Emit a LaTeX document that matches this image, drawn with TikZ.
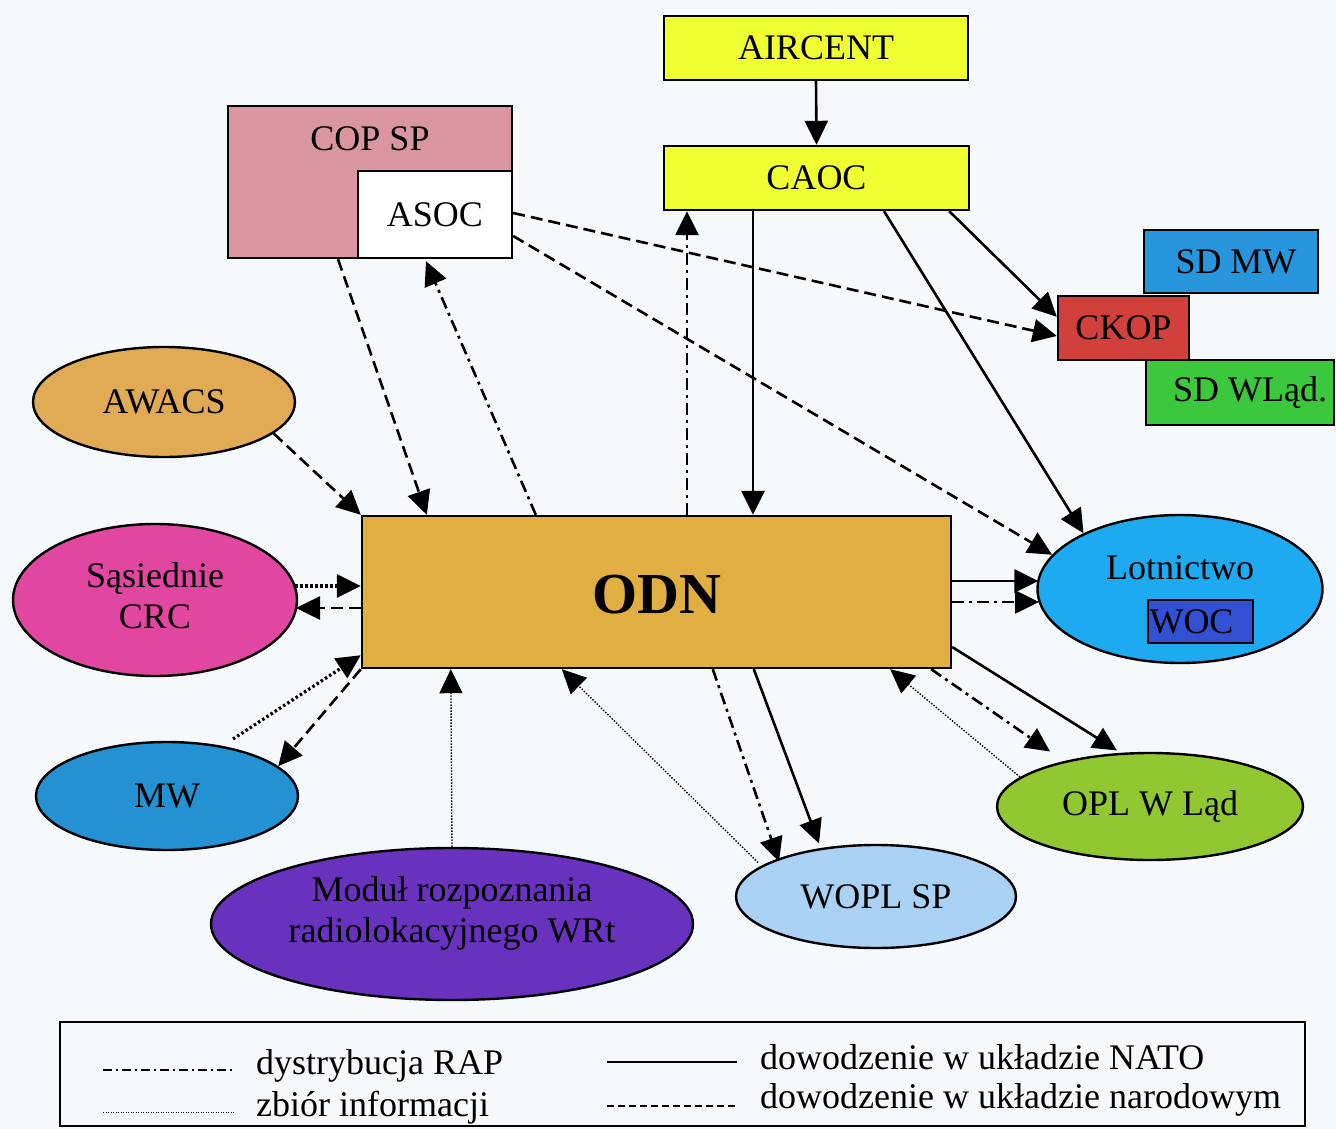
\documentclass[tikz,border=0pt]{standalone}
\usepackage{fontspec}
\setmainfont{Liberation Serif}
\usetikzlibrary{shapes.geometric,arrows.meta,calc}
\definecolor{bgc}{RGB}{246,249,252}
\definecolor{cyel}{RGB}{240,255,50}
\definecolor{cpink}{RGB}{218,150,160}
\definecolor{csdmw}{RGB}{40,150,220}
\definecolor{cckop}{RGB}{210,64,60}
\definecolor{csdwl}{RGB}{60,200,60}
\definecolor{cawacs}{RGB}{225,170,85}
\definecolor{csas}{RGB}{225,70,160}
\definecolor{cmw}{RGB}{35,145,210}
\definecolor{cmod}{RGB}{105,50,190}
\definecolor{cwopl}{RGB}{170,210,245}
\definecolor{copl}{RGB}{145,200,50}
\definecolor{clot}{RGB}{30,170,240}
\definecolor{cwoc}{RGB}{50,80,210}
\definecolor{codn}{RGB}{225,175,65}
\begin{document}
\begin{tikzpicture}[x=1pt,y=-1pt,
  font=\fontsize{36}{41}\selectfont,
  box/.style={draw=black, line width=2.4pt, rectangle, inner sep=0pt},
  ell/.style={draw=black, line width=2.4pt, ellipse, inner sep=0pt},
  tip/.style={-{Triangle[length=24pt,width=23pt]}},
  nato/.style={tip, line width=2.6pt},
  narod/.style={tip, line width=2.6pt, dash pattern=on 12pt off 6pt},
  rap/.style={tip, line width=2.6pt, dash pattern=on 12pt off 5pt on 3pt off 5pt},
  info/.style={tip, line width=1.4pt, dash pattern=on 1.4pt off 1.6pt},
  infobold/.style={tip, line width=3.2pt, dash pattern=on 2.5pt off 2.5pt},
  lbl/.style={inner sep=0pt}
]
\useasboundingbox (0,0) rectangle (1336,1129);
\fill[bgc] (0,0) rectangle (1336,1129);

% boxes
\node[box, fill=cyel, minimum width=304pt, minimum height=64pt] (aircent) at (816,48) {AIRCENT};
\node[box, fill=cyel, minimum width=305pt, minimum height=64pt] (caoc) at (816.5,178) {CAOC};
\node[box, fill=cpink, minimum width=284pt, minimum height=152pt] (copsp) at (370,182) {};
\node[lbl] (copsptxt) at (370,139) {COP SP};
\node[box, fill=white, minimum width=154pt, minimum height=87pt] (asoc) at (435,214.5) {ASOC};
\node[box, fill=csdmw, minimum width=174pt, minimum height=63pt] (sdmw) at (1231,261.5) {\hspace*{10pt}SD MW};
\node[box, fill=csdwl, minimum width=188pt, minimum height=65pt] (sdwl) at (1240,392.5) {\hspace*{20pt}SD WLąd.};
\node[box, fill=cckop, minimum width=131pt, minimum height=64pt] (ckop) at (1123.5,328) {CKOP};
\node[box, fill=codn, minimum width=589pt, minimum height=152pt] (odn) at (656.5,592) {};
\node[lbl, font=\fontsize{58}{60}\selectfont\bfseries] (odntxt) at (656.5,595) {ODN};

% ellipses
\node[ell, fill=cawacs, minimum width=262pt, minimum height=110pt] (awacs) at (164,402) {AWACS};
\node[ell, fill=csas, minimum width=284pt, minimum height=152pt] (sas) at (155,600) {};
\node[lbl, align=center] (sastxt) at (155,596) {Sąsiednie\\CRC};
\node[ell, fill=cmw, minimum width=262pt, minimum height=108pt] (mw) at (167,796) {MW};
\node[ell, fill=cmod, minimum width=482pt, minimum height=152pt] (mod) at (452,924) {};
\node[lbl, align=center] (modtxt) at (452,913) {Moduł rozpoznania\\radiolokacyjnego WRt};
\node[ell, fill=cwopl, minimum width=280pt, minimum height=103pt] (wopl) at (876,896.5) {WOPL SP};
\node[ell, fill=copl, minimum width=306pt, minimum height=107pt] (opl) at (1150,806.5) {OPL W Ląd};
\node[ell, fill=clot, minimum width=285pt, minimum height=148pt] (lot) at (1180,589) {};
\node[lbl] (lottxt) at (1180,568) {Lotnictwo};
\node[draw=black, line width=1.5pt, fill=cwoc, rectangle, inner sep=0pt, minimum width=105pt, minimum height=43pt] (woc) at (1200.5,621.5) {\hspace*{-18pt}WOC};

% connectors
\draw[nato] (aircent.south) -- (caoc.north);
\draw[nato] ($(caoc.south)+(-63.5,0)$) -- ($(odn.north)+(96.5,0)$);
\draw[rap] ($(odn.north)+(30.5,0)$) -- ($(caoc.south)+(-129.5,0)$);
\draw[nato] ($(caoc.south east)+(-21,0)$) -- ($(ckop.north west)+(0,22)$);
\draw[nato] ($(caoc.south)+(67.5,0)$) -- (lot.150);
\draw[narod] ($(asoc.east)+(0,-1.5)$) -- ($(ckop.west)+(0,8)$);
\draw[narod] ($(asoc.east)+(0,21.5)$) -- (lot.165);
\draw[narod] ($(copsp.south)+(-32,0)$) -- ($(odn.north west)+(66,0)$);
\draw[rap] ($(odn.north west)+(175,0)$) -- ($(asoc.south)+(-9,2)$);
\draw[narod] (awacs.-16) -- (odn.north west);
\draw[infobold] ($(sas.center)+(140,-14)$) -- ($(odn.west)+(0,-6)$);
\draw[narod] ($(odn.west)+(0,16)$) -- ($(sas.center)+(141,8)$);
\draw[infobold] ($(mw.center)+(66,-57)$) -- ($(odn.south west)+(0,-14)$);
\draw[narod] (odn.south west) -- (mw.15);
\draw[info] (mod.north) -- ($(odn.south west)+(90,0)$);
\draw[info] ($(wopl.center)+(-118,-34)$) -- ($(odn.south west)+(201,0)$);
\draw[rap] ($(odn.south west)+(352,0)$) -- ($(wopl.center)+(-97,-35)$);
\draw[nato] ($(odn.south west)+(393,0)$) -- ($(wopl.center)+(-57,-53)$);
\draw[info] ($(opl.center)+(-130,-29.5)$) -- ($(odn.south east)+(-62,0)$);
\draw[rap] ($(odn.south east)+(-21,0)$) -- ($(opl.center)+(-100,-55)$);
\draw[nato] ($(odn.east)+(0,55)$) -- ($(opl.center)+(-33,-56)$);
\draw[nato] ($(odn.east)+(0,-11)$) -- ($(lot.center)+(-141.7,-8)$);
\draw[rap] ($(odn.east)+(0,10)$) -- ($(lot.center)+(-141,13)$);

% legend
\node[draw=black, line width=2pt, rectangle, inner sep=0pt, minimum width=1245pt, minimum height=104pt] (legend) at (682.5,1074) {};
\draw[line width=1.6pt, dash pattern=on 9pt off 4pt on 2pt off 4pt] (103,1070) -- (235,1070);
\node[lbl, anchor=west] (l1) at (256,1066) {dystrybucja RAP};
\draw[line width=1pt, dash pattern=on 1pt off 1.5pt] (103,1112) -- (235,1112);
\node[lbl, anchor=west] (l2) at (256,1108) {zbiór informacji};
\draw[line width=1.6pt] (607,1062) -- (737,1062);
\node[lbl, anchor=west] (l3) at (760,1057) {dowodzenie w układzie NATO};
\draw[line width=1.6pt, dash pattern=on 7pt off 4pt] (607,1106) -- (737,1106);
\node[lbl, anchor=west] (l4) at (760,1100) {dowodzenie w układzie narodowym};
\end{tikzpicture}
\end{document}
